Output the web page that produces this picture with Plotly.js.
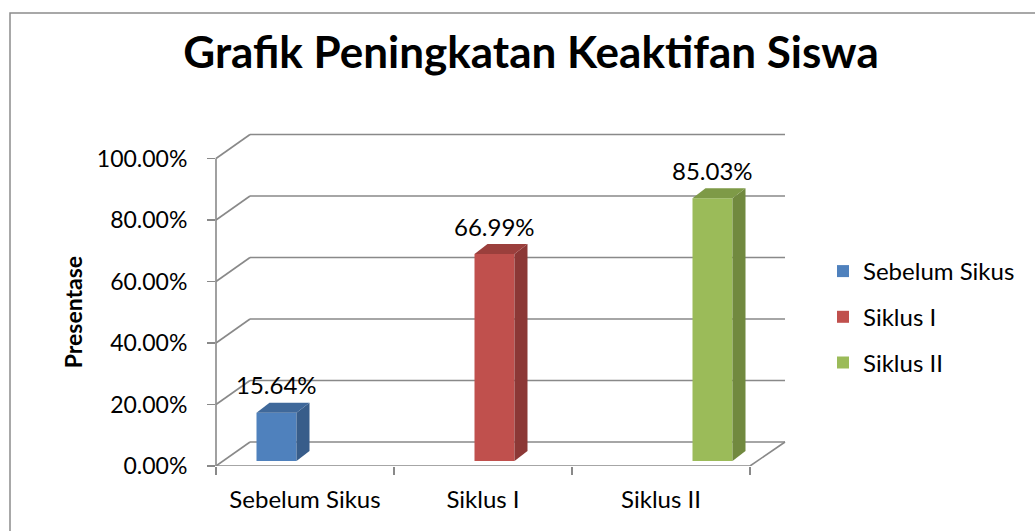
<!DOCTYPE html>
<html>
<head>
<meta charset="utf-8">
<script src="https://cdn.plot.ly/plotly-3.0.1.min.js"></script>
<style>
  html, body { margin: 0; padding: 0; background: #ffffff; }
  #chart { width: 1035px; height: 531px; }
</style>
</head>
<body>
<div id="chart"></div>
<script>
// ---- data ----
const categories = ["Sebelum Sikus", "Siklus I", "Siklus II"];
const values = [15.64, 66.99, 85.03];
const valueLabels = ["15.64%", "66.99%", "85.03%"];
const tickValues = [0, 20, 40, 60, 80, 100];
const tickLabels = ["0.00%", "20.00%", "40.00%", "60.00%", "80.00%", "100.00%"];
const yTitle = "Presentase";
const frontColors = ["#4F81BD", "#C0504D", "#9BBB59"];
const sideColors = ["#385D8A", "#8C3836", "#71893F"];
const topColors = ["#3F689A", "#9B3F3C", "#7E9A47"];

// ---- geometry (pixels) ----
const W = 1035, H = 531;
const L = 216, R = 785, T = 133, B = 466;
const pw = R - L, ph = B - T;
const frontScale = 3.075;      // px per % on the front axis
const barScale = 3.09;         // px per % in the bar plane
const barBaseOffset = 5;       // bar plane base is 5px above front floor
const wallDx = 34, wallDy = 24; // back wall offset
const floorFrontEnd = 750;     // front floor line end px
const barSpacing = 218, barFirst = 276.5;
const barWidthPx = 40, sideDx = 13, sideDy = 10;

const yRange = [0, ph / frontScale];
const y2Min = -barBaseOffset / barScale;
const y2Range = [y2Min, y2Min + ph / barScale];
const x2Range = [(L - barFirst) / barSpacing, (R - barFirst) / barSpacing];
const catUnit = (floorFrontEnd - L) / categories.length;
const xRange = [-0.5, -0.5 + pw / catUnit];

const w = barWidthPx / barSpacing;
const dx = sideDx / barSpacing;
const dy = sideDy / barScale;
const wallDyUnits = wallDy / frontScale;
const wallDxPaper = wallDx / pw;

const traces = [];
categories.forEach((c, i) => {
  const v = values[i];
  traces.push({
    type: "bar", x: [i], y: [v], base: 0, width: w, name: c,
    xaxis: "x2", yaxis: "y2",
    marker: { color: frontColors[i], line: { width: 0 } },
    hoverinfo: "skip", legendgroup: "g" + i
  });
  // side face
  traces.push({
    type: "scatter", mode: "lines", fill: "toself",
    x: [i + w/2, i + w/2 + dx, i + w/2 + dx, i + w/2, i + w/2],
    y: [0, dy, v + dy, v, 0],
    xaxis: "x2", yaxis: "y2",
    line: { width: 0, color: sideColors[i] }, fillcolor: sideColors[i],
    showlegend: false, hoverinfo: "skip"
  });
  // top face
  traces.push({
    type: "scatter", mode: "lines", fill: "toself",
    x: [i - w/2, i - w/2 + dx, i + w/2 + dx, i + w/2, i - w/2],
    y: [v, v + dy, v + dy, v, v],
    xaxis: "x2", yaxis: "y2",
    line: { width: 0, color: topColors[i] }, fillcolor: topColors[i],
    showlegend: false, hoverinfo: "skip"
  });
});

const gridColor = "#898989";
const shapes = [];
tickValues.forEach(v => {
  shapes.push({ type: "line", layer: "below", xref: "paper", yref: "y",
    x0: 0, y0: v, x1: wallDxPaper, y1: v + wallDyUnits,
    line: { color: gridColor, width: 1.6 } });
  shapes.push({ type: "line", layer: "below", xref: "paper", yref: "y",
    x0: wallDxPaper, y0: v + wallDyUnits, x1: 1, y1: v + wallDyUnits,
    line: { color: gridColor, width: 1.6 } });
});
shapes.push({ type: "line", layer: "below", xref: "paper", yref: "y",
  x0: 0, y0: 0, x1: (floorFrontEnd - L) / pw, y1: 0,
  line: { color: gridColor, width: 1.6 } });
shapes.push({ type: "line", layer: "below", xref: "paper", yref: "y",
  x0: (floorFrontEnd - L) / pw, y0: 0, x1: 1, y1: wallDyUnits,
  line: { color: gridColor, width: 1.6 } });
shapes.push({ type: "line", layer: "below", xref: "paper", yref: "y",
  x0: 0, y0: 0, x1: 0, y1: tickValues[tickValues.length - 1],
  line: { color: gridColor, width: 1.6 } });
shapes.push({ type: "rect", xref: "paper", yref: "paper",
  x0: (10 - L) / pw, y0: -2, x1: 3, y1: (B - 13) / ph,
  line: { color: "#8c8c8c", width: 1.5 }, fillcolor: "rgba(0,0,0,0)" });

const font = "Lato, 'Open Sans', sans-serif";
const annotations = categories.map((c, i) => ({
  xref: "x2", yref: "y2", x: i, y: values[i], text: valueLabels[i],
  showarrow: false, yanchor: "middle", yshift: 28,
  font: { family: font, size: 24, color: "#000000" }
}));
// y-axis title, centred on the front axis
annotations.push({
  xref: "paper", yref: "y", x: (73 - L) / pw, y: tickValues[tickValues.length - 1] / 2,
  text: "<b>" + yTitle + "</b>", textangle: -90, showarrow: false,
  xanchor: "center", yanchor: "middle",
  font: { family: font, size: 23, color: "#000000" }
});

const layout = {
  width: W, height: H,
  margin: { l: L, r: W - R, t: T, b: H - B, pad: 0 },
  paper_bgcolor: "#ffffff", plot_bgcolor: "rgba(0,0,0,0)",
  showlegend: true,
  title: {
    text: "<b>Grafik Peningkatan Keaktifan Siswa</b>",
    x: 531 / W, xanchor: "center", xref: "container",
    y: 1 - 53 / H, yanchor: "middle", yref: "container",
    font: { family: font, size: 44, color: "#000000" }
  },
  xaxis: {
    range: xRange, tickvals: categories.map((c, i) => i), ticktext: categories,
    ticks: "", showgrid: false, zeroline: false, showline: false,
    ticklabelstandoff: 17,
    tickfont: { family: font, size: 24, color: "#000000" },
    minor: { tickvals: [-0.5, 0.5, 1.5, 2.5], ticks: "outside", ticklen: 8,
             tickcolor: gridColor, tickwidth: 1.6, showgrid: false },
    fixedrange: true
  },
  xaxis2: {
    range: x2Range, overlaying: "x", visible: false, fixedrange: true
  },
  yaxis: {
    range: yRange, tickvals: tickValues, ticktext: tickLabels,
    ticks: "outside", ticklen: 8, tickcolor: gridColor, tickwidth: 1.6,
    ticklabelstandoff: 15,
    showgrid: false, zeroline: false, showline: false,
    tickfont: { family: font, size: 23, color: "#000000" },
    fixedrange: true
  },
  yaxis2: {
    range: y2Range, overlaying: "y", visible: false, fixedrange: true
  },
  legend: {
    x: (823 - L) / pw, xanchor: "left",
    y: (B - 249) / ph, yanchor: "top",
    traceorder: "grouped", tracegroupgap: 11.5,
    font: { family: font, size: 24, color: "#000000" },
    bgcolor: "rgba(0,0,0,0)", borderwidth: 0
  },
  shapes: shapes,
  annotations: annotations
};

Plotly.newPlot("chart", traces, layout, { displayModeBar: false, staticPlot: true });
</script>
</body>
</html>
